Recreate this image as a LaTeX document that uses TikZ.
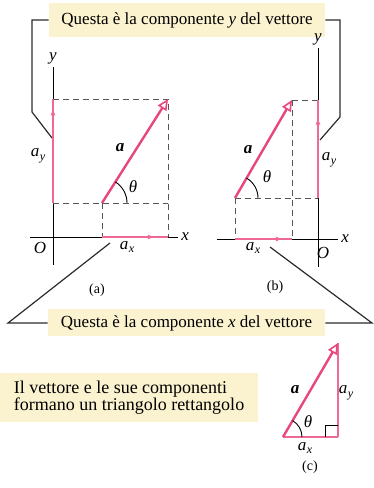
\documentclass[tikz,border=0pt]{standalone}
\usepackage{fontspec}
\setmainfont{Liberation Serif}
\usetikzlibrary{arrows.meta, positioning, calc, decorations.markings}
\definecolor{cpink}{HTML}{E8477C}
\definecolor{clight}{HTML}{EE6A95}
\definecolor{cyellow}{HTML}{FBF2CF}
\definecolor{cgrey}{HTML}{555555}
\definecolor{cline}{HTML}{2B2B2B}
\newcommand{\vcomp}[1]{\textit{a}\kern0.5pt\raisebox{-0.45ex}{\fontsize{12}{12}\selectfont\textit{#1}}}
\tikzset{
  every picture/.style={line width=0.9pt},
  vec/.style={draw=cpink, line width=2.4pt, -{Triangle[open, length=11pt, width=10pt, line width=1.6pt, fill=white]}},
  comp/.style={draw=clight, line width=2pt},
  comparrow/.style={comp, postaction={decorate, decoration={markings, mark=at position #1 with {\arrow[clight]{Latex[length=7pt, width=5pt]}}}}},
  axis/.style={draw=black, line width=0.9pt},
  guide/.style={draw=cgrey, line width=0.9pt, dash pattern=on 6pt off 4pt},
  bracket/.style={draw=cline, line width=1.2pt},
  banner/.style={fill=cyellow, inner sep=2pt, font=\fontsize{17}{17}\selectfont},
  lbl/.style={font=\fontsize{17}{17}\selectfont, inner sep=1pt},
  paneltag/.style={font=\fontsize{14}{14}\selectfont, inner sep=1pt},
}
\begin{document}
\begin{tikzpicture}[x=1pt, y=1pt]
  \useasboundingbox (0,0) rectangle (373,488);

  % callouts
  \node[banner, minimum width=276pt, minimum height=34pt] (ytext) at (187,468) {Questa è la componente \textit{y} del vettore};
  \node[banner, minimum width=277pt, minimum height=27pt] (xtext) at (186.5,165) {Questa è la componente \textit{x} del vettore};
  \node[banner, minimum width=258pt, minimum height=49pt, align=left, font=\fontsize{18}{17}\selectfont] (tritext) at (129,90.5) {Il vettore e le sue componenti\\formano un triangolo rettangolo};
  \draw[bracket] (ytext.west) -- (32,468) -- (32,376) -- (52,350);
  \draw[bracket] (ytext.east) -- (340,468) -- (340,371) -- (320,348);
  \draw[bracket] (xtext.west) -- (8,165) -- (110,245);
  \draw[bracket] (xtext.east) -- (372,165) -- (270,241);

  % (a)
  \coordinate (pa) at (102,285);
  \coordinate (qa) at (168,389);
  \draw[axis] (30,251) coordinate (axl) -- (178,251) coordinate (axr);
  \draw[axis] (53,223) coordinate (ayb) -- (53,421) coordinate (ayt);
  \draw[guide] (53,389) -- (qa) -- (168,251);
  \draw[guide] (53,285) -- (168,285);
  \draw[guide] (pa) -- (102,251);
  \draw[comparrow=0.91] (53,285) -- (53,389);
  \draw[comparrow=0.8] (102,251) -- (168,251);
  \draw[vec] (pa) -- (qa);
  \draw ($(pa)+(25,0)$) arc[start angle=0, end angle=57.6, radius=25pt];
  \node[lbl, right=2pt of axr] (xa) {\textit{x}};
  \node[lbl, above=1pt of ayt] (ya) {\textit{y}};
  \node[lbl] (oa) at (40,240) {\textit{O}};
  \node[lbl] (aa) at (120,340) {\textbf{\textit{a}}};
  \node[lbl] (tha) at (133,301) {\textit{θ}};
  \node[lbl] (aya) at (38,332) {\vcomp{y}};
  \node[lbl] (axa) at (127,241) {\vcomp{x}};
  \node[paneltag] (taga) at (97,198) {(a)};

  % (b)
  \coordinate (pb) at (235,290);
  \coordinate (qb) at (292,388);
  \draw[axis] (217,249) coordinate (bxl) -- (338,249) coordinate (bxr);
  \draw[axis] (318,221) coordinate (byb) -- (318,440) coordinate (byt);
  \draw[guide] (qb) -- (318,388);
  \draw[guide] (qb) -- (292,249);
  \draw[guide] (pb) -- (318,290);
  \draw[guide] (pb) -- (235,249);
  \draw[comparrow=0.82] (318,290) -- (318,388);
  \draw[comparrow=0.84] (235,249) -- (292,249);
  \draw[vec] (pb) -- (qb);
  \draw ($(pb)+(23,0)$) arc[start angle=0, end angle=59.8, radius=23pt];
  \node[lbl, right=2pt of bxr] (xb) {\textit{x}};
  \node[lbl, above=1pt of byt] (yb) {\textit{y}};
  \node[lbl] (ob) at (323,235) {\textit{O}};
  \node[lbl] (ab) at (248,338) {\textbf{\textit{a}}};
  \node[lbl] (thb) at (267,311) {\textit{θ}};
  \node[lbl] (ayb) at (329,328) {\vcomp{y}};
  \node[lbl] (axb) at (253,240) {\vcomp{x}};
  \node[paneltag] (tagb) at (275,201) {(b)};

  % (c)
  \coordinate (pc) at (283,51);
  \coordinate (rc) at (338,51);
  \coordinate (qc) at (338,145);
  \draw[comp] (pc) -- (rc);
  \draw[comp] (rc) -- (qc);
  \draw ($(rc)+(-13,0)$) |- ($(rc)+(0,12)$);
  \draw[vec] (pc) -- (qc);
  \draw ($(pc)+(19,0)$) arc[start angle=0, end angle=59.7, radius=19pt];
  \node[lbl] (ac) at (295,98) {\textbf{\textit{a}}};
  \node[lbl] (thc) at (308,66) {\textit{θ}};
  \node[lbl] (ayc) at (346,95) {\vcomp{y}};
  \node[lbl] (axc) at (305,40) {\vcomp{x}};
  \node[paneltag] (tagc) at (310,21) {(c)};
\end{tikzpicture}
\end{document}
